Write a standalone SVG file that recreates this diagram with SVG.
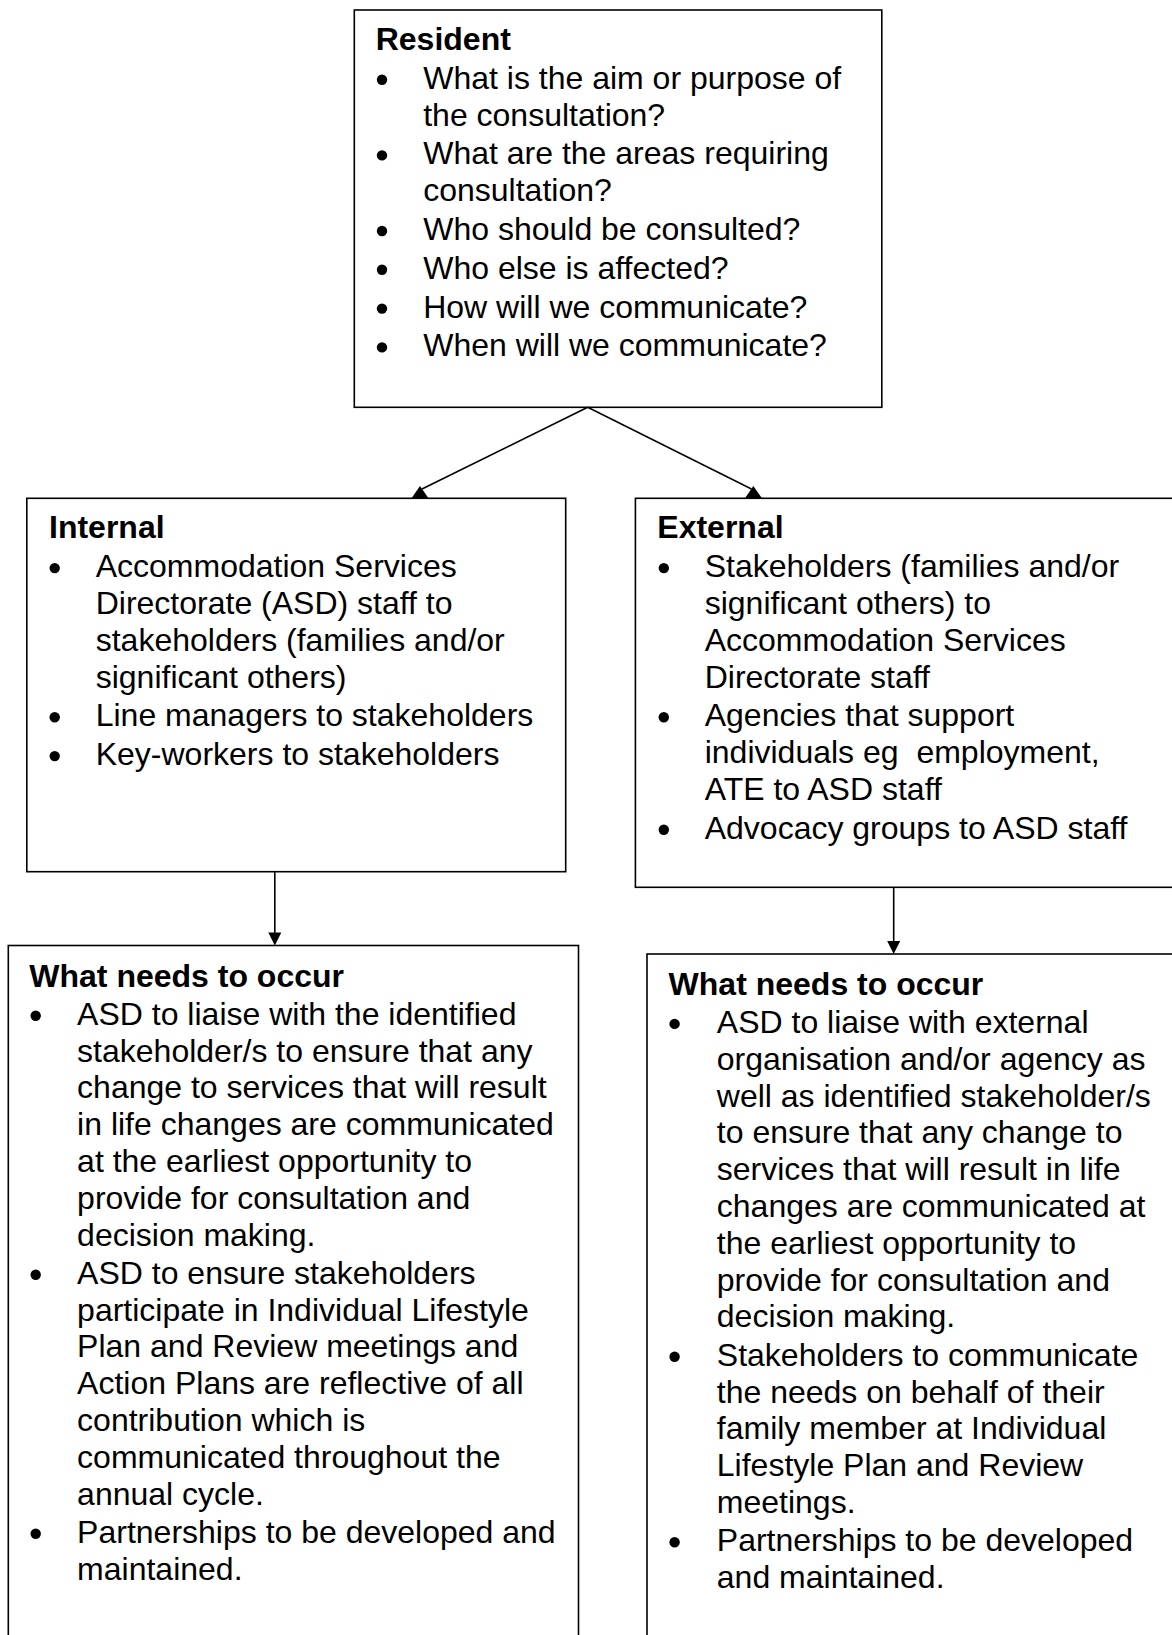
<svg xmlns="http://www.w3.org/2000/svg" width="1172" height="1635" viewBox="0 0 1172 1635">
<style>
.box{fill:#fff;stroke:#000;stroke-width:1.6}
.t{font-family:"Liberation Sans",Arial,Helvetica,sans-serif;font-size:32px;fill:#000}
.h{font-weight:bold}
.b{fill:#000}
.ln{stroke:#000;stroke-width:1.6;fill:none}
.ah{fill:#000}
</style>
<rect width="1172" height="1635" fill="#fff"/>

<g id="resident">
<rect class="box" x="354.3" y="10" width="527.5" height="397.3"/>
<text class="t h" x="375.7" y="50">Resident</text>
<circle class="b" cx="382" cy="79.8" r="5.2"/>
<text class="t" x="423.2" y="88.8">What is the aim or purpose of</text>
<text class="t" x="423.2" y="125.6">the consultation?</text>
<circle class="b" cx="382" cy="155.4" r="5.2"/>
<text class="t" x="423.2" y="164.4">What are the areas requiring</text>
<text class="t" x="423.2" y="201.2">consultation?</text>
<circle class="b" cx="382" cy="231" r="5.2"/>
<text class="t" x="423.2" y="240">Who should be consulted?</text>
<circle class="b" cx="382" cy="269.8" r="5.2"/>
<text class="t" x="423.2" y="278.8">Who else is affected?</text>
<circle class="b" cx="382" cy="308.6" r="5.2"/>
<text class="t" x="423.2" y="317.6">How will we communicate?</text>
<circle class="b" cx="382" cy="347.4" r="5.2"/>
<text class="t" x="423.2" y="356.4">When will we communicate?</text>
</g>

<g id="internal">
<rect class="box" x="26.8" y="498.3" width="538.9" height="373.4"/>
<text class="t h" x="49" y="538.3">Internal</text>
<circle class="b" cx="54.7" cy="568.1" r="5.2"/>
<text class="t" x="95.7" y="577.1">Accommodation Services</text>
<text class="t" x="95.7" y="613.9">Directorate (ASD) staff to</text>
<text class="t" x="95.7" y="650.7">stakeholders (families and/or</text>
<text class="t" x="95.7" y="687.5">significant others)</text>
<circle class="b" cx="54.7" cy="717.3" r="5.2"/>
<text class="t" x="95.7" y="726.3">Line managers to stakeholders</text>
<circle class="b" cx="54.7" cy="756.1" r="5.2"/>
<text class="t" x="95.7" y="765.1">Key-workers to stakeholders</text>
</g>

<g id="external">
<rect class="box" x="635.4" y="498.3" width="560" height="389"/>
<text class="t h" x="657.3" y="538.3">External</text>
<circle class="b" cx="663.8" cy="568.1" r="5.2"/>
<text class="t" x="704.7" y="577.1">Stakeholders (families and/or</text>
<text class="t" x="704.7" y="613.9">significant others) to</text>
<text class="t" x="704.7" y="650.7">Accommodation Services</text>
<text class="t" x="704.7" y="687.5">Directorate staff</text>
<circle class="b" cx="663.8" cy="717.3" r="5.2"/>
<text class="t" x="704.7" y="726.3">Agencies that support</text>
<text class="t" x="704.7" y="763.1" xml:space="preserve">individuals eg  employment,</text>
<text class="t" x="704.7" y="799.9">ATE to ASD staff</text>
<circle class="b" cx="663.8" cy="829.7" r="5.2"/>
<text class="t" x="704.7" y="838.7">Advocacy groups to ASD staff</text>
</g>

<g id="internal-occur">
<rect class="box" x="8.3" y="945.5" width="570.2" height="720"/>
<text class="t h" x="29.3" y="986.5">What needs to occur</text>
<circle class="b" cx="35.7" cy="1015.7" r="5.2"/>
<text class="t" x="77.1" y="1024.7">ASD to liaise with the identified</text>
<text class="t" x="77.1" y="1061.5">stakeholder/s to ensure that any</text>
<text class="t" x="77.1" y="1098.3">change to services that will result</text>
<text class="t" x="77.1" y="1135.1">in life changes are communicated</text>
<text class="t" x="77.1" y="1171.9">at the earliest opportunity to</text>
<text class="t" x="77.1" y="1208.7">provide for consultation and</text>
<text class="t" x="77.1" y="1245.5">decision making.</text>
<circle class="b" cx="35.7" cy="1274.7" r="5.2"/>
<text class="t" x="77.1" y="1283.7">ASD to ensure stakeholders</text>
<text class="t" x="77.1" y="1320.5">participate in Individual Lifestyle</text>
<text class="t" x="77.1" y="1357.3">Plan and Review meetings and</text>
<text class="t" x="77.1" y="1394.1">Action Plans are reflective of all</text>
<text class="t" x="77.1" y="1430.9">contribution which is</text>
<text class="t" x="77.1" y="1467.7">communicated throughout the</text>
<text class="t" x="77.1" y="1504.5">annual cycle.</text>
<circle class="b" cx="35.7" cy="1533.7" r="5.2"/>
<text class="t" x="77.1" y="1542.7">Partnerships to be developed and</text>
<text class="t" x="77.1" y="1579.5">maintained.</text>
</g>

<g id="external-occur">
<rect class="box" x="647" y="954" width="560" height="720"/>
<text class="t h" x="668.6" y="994.5">What needs to occur</text>
<circle class="b" cx="674.6" cy="1023.9" r="5.2"/>
<text class="t" x="716.8" y="1032.9">ASD to liaise with external</text>
<text class="t" x="716.8" y="1069.7">organisation and/or agency as</text>
<text class="t" x="716.8" y="1106.5">well as identified stakeholder/s</text>
<text class="t" x="716.8" y="1143.3">to ensure that any change to</text>
<text class="t" x="716.8" y="1180.1">services that will result in life</text>
<text class="t" x="716.8" y="1216.9">changes are communicated at</text>
<text class="t" x="716.8" y="1253.7">the earliest opportunity to</text>
<text class="t" x="716.8" y="1290.5">provide for consultation and</text>
<text class="t" x="716.8" y="1327.3">decision making.</text>
<circle class="b" cx="674.6" cy="1356.7" r="5.2"/>
<text class="t" x="716.8" y="1365.7">Stakeholders to communicate</text>
<text class="t" x="716.8" y="1402.5">the needs on behalf of their</text>
<text class="t" x="716.8" y="1439.3">family member at Individual</text>
<text class="t" x="716.8" y="1476.1">Lifestyle Plan and Review</text>
<text class="t" x="716.8" y="1512.9">meetings.</text>
<circle class="b" cx="674.6" cy="1542.3" r="5.2"/>
<text class="t" x="716.8" y="1551.3">Partnerships to be developed</text>
<text class="t" x="716.8" y="1588.1">and maintained.</text>
</g>

<g id="connectors">
<line class="ln" x1="587.7" y1="407.3" x2="422" y2="489"/>
<polygon class="ah" points="420,486 411.5,498.3 428.5,498.3"/>
<line class="ln" x1="587.7" y1="407.3" x2="751.5" y2="489"/>
<polygon class="ah" points="753.3,486 745,498.3 762,498.3"/>
<line class="ln" x1="274.8" y1="871.7" x2="274.8" y2="935"/>
<polygon class="ah" points="268.3,932.5 281.3,932.5 274.8,945.5"/>
<line class="ln" x1="893.7" y1="887.3" x2="893.7" y2="943"/>
<polygon class="ah" points="887.2,941 900.2,941 893.7,954"/>
</g>
</svg>
